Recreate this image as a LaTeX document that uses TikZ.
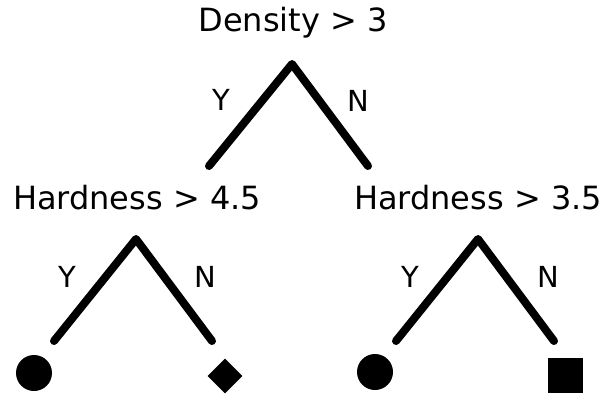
\documentclass[tikz,border=0pt]{standalone}
\usepackage{fontspec}
\setmainfont{DejaVu Sans}
\usetikzlibrary{shapes.geometric}

\tikzset{
  branch/.style={line width=8pt, line cap=round, line join=round},
  test/.style={anchor=base, inner sep=0pt, font=\fontsize{32}{38}\selectfont},
  answer/.style={anchor=base, inner sep=0pt, font=\fontsize{29}{34}\selectfont},
  leaf/.style={fill=black, inner sep=0pt}
}

\begin{document}
\begin{tikzpicture}[x=1pt,y=-1pt]
\useasboundingbox (0,0) rectangle (610,398);
% tests
\node[test] (dens)   at (293,32)  {Density > 3};
\node[test] (hard-l) at (137,210) {Hardness > 4.5};
\node[test] (hard-r) at (478,210) {Hardness > 3.5};
% branch points
\coordinate (dens-top)   at (292,64);
\coordinate (dens-y)     at (209,166);
\coordinate (dens-n)     at (368,166);
\coordinate (hard-l-top) at (136,239);
\coordinate (hard-l-y)   at (54,341);
\coordinate (hard-l-n)   at (212,341);
\coordinate (hard-r-top) at (478,239);
\coordinate (hard-r-y)   at (396,341);
\coordinate (hard-r-n)   at (554,341);
\draw[branch] (dens-y) -- (dens-top) -- (dens-n);
\draw[branch] (hard-l-y) -- (hard-l-top) -- (hard-l-n);
\draw[branch] (hard-r-y) -- (hard-r-top) -- (hard-r-n);
% answers
\node[answer] (dens-ylab)   at (221,111) {Y};
\node[answer] (dens-nlab)   at (358,112) {N};
\node[answer] (hard-l-ylab) at (67,287)  {Y};
\node[answer] (hard-l-nlab) at (205,287) {N};
\node[answer] (hard-r-ylab) at (410,287) {Y};
\node[answer] (hard-r-nlab) at (548,287) {N};
% leaves
\node[leaf, circle, minimum size=36pt]  (leaf-ly) at (34,373)  {};
\node[leaf, diamond, minimum size=35pt] (leaf-ln) at (225,376) {};
\node[leaf, circle, minimum size=36pt]  (leaf-ry) at (375,372) {};
\node[leaf, rectangle, minimum size=35pt] (leaf-rn) at (565,375) {};
\end{tikzpicture}
\end{document}
